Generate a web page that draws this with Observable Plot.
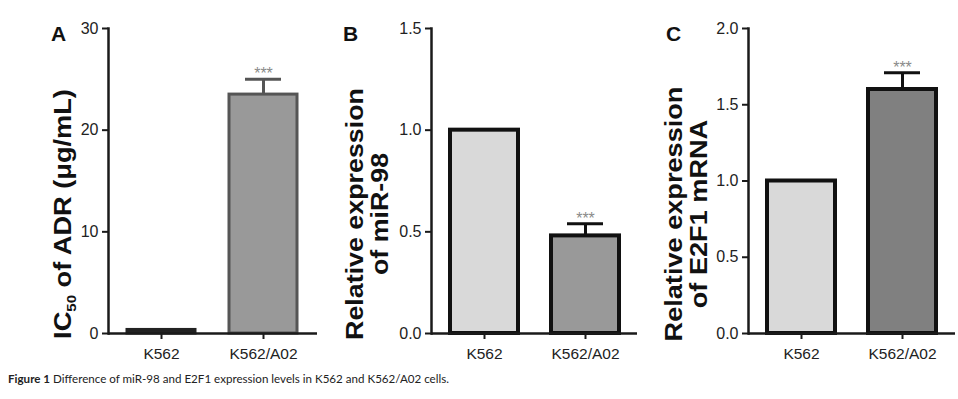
<!DOCTYPE html>
<html>
<head>
<meta charset="utf-8">
<script src="https://cdn.jsdelivr.net/npm/d3@7"></script>
<script src="https://cdn.jsdelivr.net/npm/@observablehq/plot@0.6"></script>
<style>
  html, body { margin: 0; padding: 0; background: #fff; }
  #root { position: relative; width: 958px; height: 399px; overflow: hidden; }
  .panel { position: absolute; top: 0; }
  .panel svg, .panel svg text { font-family: "Liberation Sans", Arial, sans-serif !important; }
  #caption { position: absolute; left: 8px; top: 372px; font-family: Lato, "Open Sans", sans-serif; font-size: 11.6px; color: #222; white-space: nowrap; }
</style>
</head>
<body>
<div id="root">
  <div id="pA" class="panel" style="left:0px"></div>
  <div id="pB" class="panel" style="left:330px"></div>
  <div id="pC" class="panel" style="left:650px"></div>
  <div id="caption"><b>Figure 1</b> Difference of miR-98 and E2F1 expression levels in K562 and K562/A02 cells.</div>
</div>
<script>
// ---- data ----
const categories = ["K562", "K562/A02"];
const significance = ["", "***"];

const icValues = [0.35, 23.5];
const icErrors = [0, 1.5];
const icTicks = [0, 10, 20, 30];

const mirValues = [1.0, 0.48];
const mirErrors = [0, 0.06];
const mirTicks = [0, 0.5, 1.0, 1.5];

const e2fValues = [1.0, 1.6];
const e2fErrors = [0, 0.11];
const e2fTicks = [0, 0.5, 1.0, 1.5, 2.0];

const labelA = ["IC50 of ADR (μg/mL)"];
const labelB = ["Relative expression", "of miR-98"];
const labelC = ["Relative expression", "of E2F1 mRNA"];

function panel(el, cfg) {
  const data = categories.map((c, i) => ({
    cat: c, v: cfg.values[i], e: cfg.errors[i], top: cfg.values[i] + cfg.errors[i],
    s: significance[i], fill: cfg.fills[i], stroke: cfg.strokes[i]
  }));
  const errData = data.filter(d => d.e > 0);
  const labelMarks = cfg.labels.map((t, i) => Plot.text([t], {
    text: d => d, frameAnchor: "left", rotate: -90,
    dx: cfg.labelDx[i], dy: 33, fontSize: 23.5, fontWeight: "bold", fill: "#111",
    textAnchor: "middle"
  }));
  const plot = Plot.plot({
    width: cfg.width, height: 365,
    marginLeft: cfg.marginLeft, marginRight: cfg.marginRight, marginTop: 28, marginBottom: 32,
    style: {fontFamily: "Liberation Sans, Arial, sans-serif", background: "transparent", overflow: "visible"},
    x: {domain: categories, paddingInner: 0.33, paddingOuter: 0.18, align: 0.5},
    y: {domain: [0, cfg.yMax]},
    color: {type: "identity"},
    marks: [
      Plot.barY(data, {x: "cat", y: "v", fill: "fill", stroke: "stroke", strokeWidth: cfg.barStrokeWidth}),
      Plot.ruleX(errData, {x: "cat", y1: "v", y2: "top", stroke: cfg.errColor, strokeWidth: 3}),
      Plot.tickY(errData, {x: "cat", y: "top", stroke: cfg.errColor, strokeWidth: 3, insetLeft: 16, insetRight: 16}),
      Plot.text(errData, {x: "cat", y: "top", text: "s", dy: -5, fill: "#8a8a8a", fontSize: 16}),
      Plot.ruleY([0], {stroke: "#1a1a1a", strokeWidth: 2.5}),
      Plot.frame({anchor: "left", stroke: "#1a1a1a", strokeWidth: 2.5}),
      Plot.axisY(cfg.ticks, {tickFormat: cfg.fmt, tickSize: 6, tickPadding: 4, fontSize: 16, stroke: "#1a1a1a", strokeWidth: 2, fill: "#222", label: null}),
      Plot.axisX({tickSize: 6, tickPadding: 8, fontSize: 15.5, stroke: "#1a1a1a", strokeWidth: 2, fill: "#222", label: null}),
      ...labelMarks,
      Plot.text([cfg.letter], {text: d => d, frameAnchor: "top-left", dx: cfg.letterDx, dy: -2, fontSize: 21, fontWeight: "bold", fill: "#111", textAnchor: "middle"})
    ]
  });
  el.appendChild(plot);
  // stretch rotated labels along their length (as in the reference), same factor for all lines
  const labelNodes = [];
  d3.select(plot).selectAll("text").each(function() {
    const t = this.textContent;
    if (!cfg.labels.includes(t)) return;
    if (t.startsWith("IC50")) {
      const sel = d3.select(this);
      sel.text(null);
      sel.append("tspan").text("IC");
      sel.append("tspan").attr("font-size", 13).attr("dy", 5).text("50");
      sel.append("tspan").attr("dy", -5).text(" of ADR (μg/mL)");
    }
    labelNodes.push(this);
  });
  const maxW = d3.max(labelNodes, n => n.getBBox().width);
  const s = cfg.labelLength / maxW;
  labelNodes.forEach(n => {
    const tr = n.getAttribute("transform") || "";
    n.setAttribute("transform", tr + ` scale(${s},1)`);
  });
}

panel(document.getElementById("pA"), {
  width: 330, marginLeft: 108, marginRight: 13,
  values: icValues, errors: icErrors, yMax: 30, ticks: icTicks, fmt: d3.format("d"),
  fills: ["#222222", "#999999"], strokes: ["#222222", "#555555"], barStrokeWidth: 3, errColor: "#555555",
  labels: labelA, labelDx: [-45], labelLength: 250, letter: "A", letterDx: -50
});
panel(document.getElementById("pB"), {
  width: 320, marginLeft: 101, marginRight: 13,
  values: mirValues, errors: mirErrors, yMax: 1.5, ticks: mirTicks, fmt: d3.format(".1f"),
  fills: ["#d9d9d9", "#999999"], strokes: ["#111111", "#111111"], barStrokeWidth: 4, errColor: "#111111",
  labels: labelB, labelDx: [-76, -51], labelLength: 252, letter: "B", letterDx: -81
});
panel(document.getElementById("pC"), {
  width: 308, marginLeft: 98, marginRight: 3,
  values: e2fValues, errors: e2fErrors, yMax: 2.0, ticks: e2fTicks, fmt: d3.format(".1f"),
  fills: ["#d9d9d9", "#808080"], strokes: ["#111111", "#111111"], barStrokeWidth: 4, errColor: "#111111",
  labels: labelC, labelDx: [-74, -49], labelLength: 255, letter: "C", letterDx: -75
});
</script>
</body>
</html>
